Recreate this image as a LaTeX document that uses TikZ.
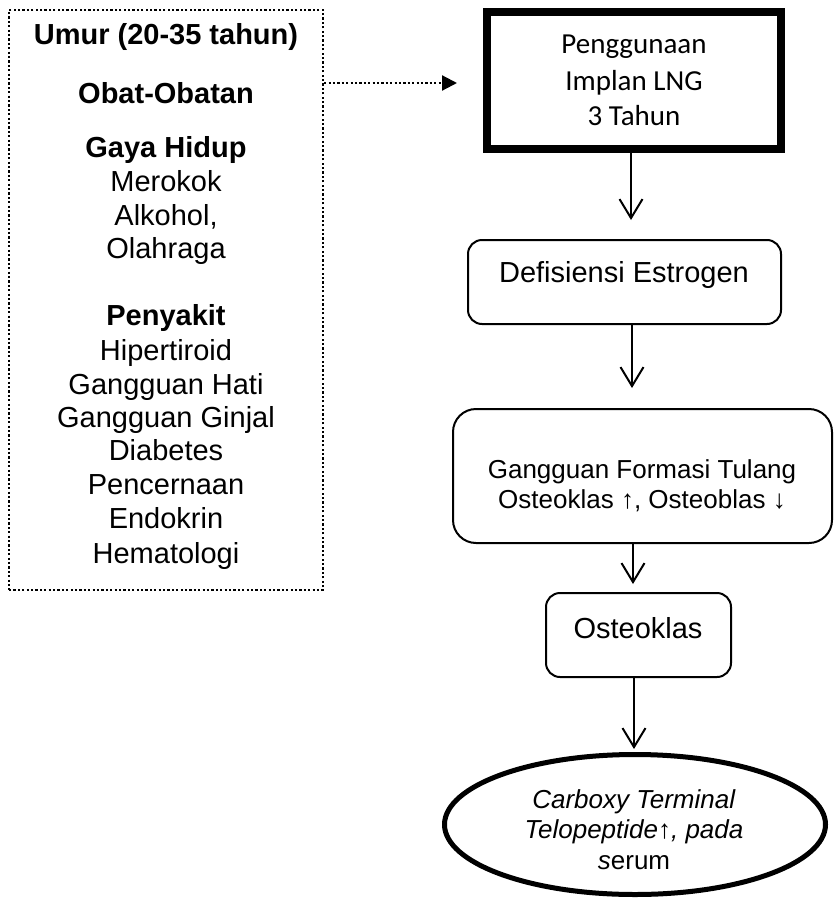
\documentclass[tikz,border=0pt]{standalone}
\usepackage{fontspec}
\setmainfont{Liberation Sans}
\newfontfamily\carlitofont{Carlito}
\usetikzlibrary{arrows.meta,shapes.geometric}
\tikzset{
  txt/.style={anchor=base, inner sep=0pt, font=\fontsize{29}{34}\selectfont},
  smalltxt/.style={anchor=base, inner sep=0pt, font=\fontsize{26}{30}\selectfont},
  caltxt/.style={anchor=base, inner sep=0pt, font=\carlitofont\fontsize{29}{36}\selectfont},
  dotbox/.style={draw, line width=2.2pt, dash pattern=on 2.2pt off 2.2pt, inner sep=0pt},
  thickbox/.style={draw, line width=8pt, inner sep=0pt},
  roundbox/.style={draw, line width=2pt, inner sep=0pt},
  flowarrow/.style={line width=2pt, -{Straight Barb[length=19pt,width=23pt,line width=2pt]}},
  dotarrow/.style={line width=2.2pt, dash pattern=on 2.2pt off 2.2pt, -{Triangle[length=15pt,width=15pt]}},
}
\begin{document}
\begin{tikzpicture}[x=1pt,y=-1pt]
\useasboundingbox (0,0) rectangle (835,899);

% left dotted box
\node[dotbox, minimum width=314pt, minimum height=580pt] (ld) at (166,300) {};
\node[txt] (t1) at (166,45) {\textbf{Umur (20-35 tahun)}};
\node[txt] (t2) at (166,103) {\textbf{Obat-Obatan}};
\node[txt] (t3) at (166,157) {\textbf{Gaya Hidup}};
\node[txt] (t4) at (166,191) {Merokok};
\node[txt] (t5) at (166,225) {Alkohol,};
\node[txt] (t6) at (166,258) {Olahraga};
\node[txt] (t7) at (166,325) {\textbf{Penyakit}};
\node[txt] (t8) at (166,360) {Hipertiroid};
\node[txt] (t9) at (166,394) {Gangguan Hati};
\node[txt] (t10) at (166,427) {Gangguan Ginjal};
\node[txt] (t11) at (166,460) {Diabetes};
\node[txt] (t12) at (166,494) {Pencernaan};
\node[txt] (t13) at (166,528) {Endokrin};
\node[txt] (t14) at (166,563) {Hematologi};

% thick box
\node[thickbox, minimum width=294pt, minimum height=137pt] (pg) at (634,80.5) {};
\node[caltxt] (p1) at (634,53) {Penggunaan};
\node[caltxt] (p2) at (634,90) {Implan LNG};
\node[caltxt] (p3) at (634,125) {3 Tahun};

% Defisiensi
\node[roundbox, rounded corners=14pt, minimum width=313pt, minimum height=84pt] (def) at (624.5,282) {};
\node[txt] (deft) at (624,282) {Defisiensi Estrogen};

% Gangguan
\node[roundbox, rounded corners=23pt, minimum width=379pt, minimum height=134pt] (gf) at (642.5,476) {};
\node[smalltxt] (gf1) at (642,478) {Gangguan Formasi Tulang};
\node[smalltxt] (gf2) at (642,508) {Osteoklas ↑, Osteoblas ↓};

% Osteoklas
\node[roundbox, rounded corners=14pt, minimum width=185pt, minimum height=84pt] (os) at (638.5,635) {};
\node[txt] (ost) at (638,638) {Osteoklas};

% Ellipse
\node[ellipse, draw, line width=5pt, inner sep=0pt, minimum width=381pt, minimum height=140pt] (ct) at (635,824.5) {};
\node[smalltxt] (c1) at (634,808) {\textit{Carboxy Terminal}};
\node[smalltxt] (c2) at (634,838) {\textit{Telopeptide}↑\textit{, pada}};
\node[smalltxt] (c3) at (634,869) {\textit{s}erum};

% connectors
\coordinate (da) at (0,83);
\coordinate (x1) at (631,0);
\coordinate (x2) at (632,0);
\coordinate (x3) at (633,0);
\coordinate (x4) at (634,0);
\draw[dotarrow, shorten >=26pt] (ld.east |- da) -- (pg.west |- da);
\draw[flowarrow, shorten >=19pt] (pg.south -| x1) -- (def.north -| x1);
\draw[flowarrow, shorten >=20pt] (def.south -| x2) -- (gf.north -| x2);
\draw[flowarrow, shorten >=8pt] (gf.south -| x3) -- (os.north -| x3);
\draw[flowarrow, shorten >=3pt] (os.south -| x4) -- (ct.north -| x4);
\end{tikzpicture}
\end{document}
